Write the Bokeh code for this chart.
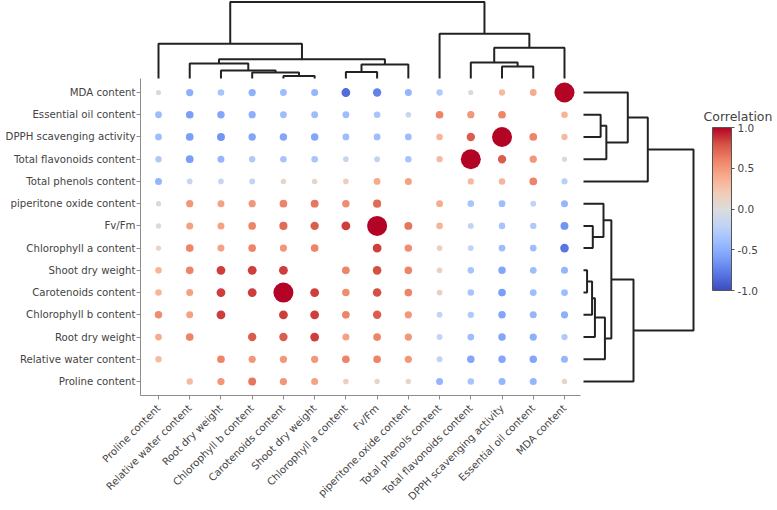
import numpy as np
from bokeh.plotting import figure
from bokeh.models import (ColumnDataSource, LinearColorMapper, ColorBar, FixedTicker,
                          PrintfTickFormatter, Label, Range1d)
from bokeh.embed import file_html
from bokeh.resources import INLINE

# ---------------- data ----------------
col_labels = ["Proline content", "Relative water content", "Root dry weight",
              "Chlorophyll b content", "Carotenoids content", "Shoot dry weight",
              "Chlorophyll a content", "Fv/Fm", "piperitone.oxide content",
              "Total phenols content", "Total flavonoids content",
              "DPPH scavenging activity", "Essential oil content", "MDA content"]
row_labels = ["Proline content", "Relative water content", "Root dry weight",
              "Chlorophyll b content", "Carotenoids content", "Shoot dry weight",
              "Chlorophyll a content", "Fv/Fm", "piperitone oxide content",
              "Total phenols content", "Total flavonoids content",
              "DPPH scavenging activity", "Essential oil content", "MDA content"]
nan = float("nan")
# each row lists correlations against the columns in col_labels order
r_proline = [nan, 0.30, 0.50, 0.65, 0.50, 0.45, 0.15, 0.08, 0.10, -0.45, -0.35, -0.45, -0.45, 0.10]
r_rwc     = [0.30, nan, 0.60, 0.50, 0.50, 0.50, 0.60, 0.60, 0.50, -0.20, -0.55, -0.55, -0.55, -0.45]
r_root    = [0.40, 0.60, nan, 0.75, 0.75, 0.85, 0.45, 0.60, 0.50, -0.20, -0.40, -0.55, -0.50, -0.30]
r_chlb    = [0.55, 0.45, 0.85, nan, 0.85, 0.85, 0.60, 0.75, 0.50, -0.20, -0.30, -0.55, -0.45, -0.50]
r_carot   = [0.35, 0.45, 0.85, 0.85, 1.00, 0.85, 0.55, 0.80, 0.60, 0.15, -0.35, -0.60, -0.40, -0.40]
r_shoot   = [0.35, 0.60, 0.85, 0.85, 0.85, nan, 0.60, 0.80, 0.60, 0.15, -0.35, -0.55, -0.40, -0.45]
r_chla    = [0.08, 0.60, 0.45, 0.60, 0.50, 0.60, nan, 0.85, 0.55, 0.15, -0.20, -0.40, -0.40, -0.80]
r_fvfm    = [0.05, 0.45, 0.45, 0.60, 0.70, 0.75, 0.85, 1.00, 0.65, 0.35, -0.20, -0.35, -0.30, -0.65]
r_pip     = [0.05, 0.50, 0.45, 0.50, 0.60, 0.65, 0.55, 0.70, nan, 0.40, -0.35, -0.40, -0.20, -0.45]
r_tp      = [-0.45, -0.15, -0.15, -0.20, 0.10, 0.10, 0.15, 0.40, 0.45, nan, 0.30, 0.35, 0.60, -0.25]
r_tf      = [-0.30, -0.60, -0.45, -0.30, -0.35, -0.35, -0.15, -0.20, -0.35, 0.30, 1.00, 0.75, 0.50, -0.05]
r_dpph    = [-0.40, -0.60, -0.65, -0.55, -0.55, -0.55, -0.40, -0.40, -0.40, 0.35, 0.75, 1.00, 0.60, 0.30]
r_eo      = [-0.40, -0.60, -0.55, -0.50, -0.40, -0.40, -0.40, -0.35, -0.15, 0.60, 0.50, 0.60, nan, 0.35]
r_mda     = [0.05, -0.50, -0.35, -0.50, -0.40, -0.45, -0.85, -0.75, -0.45, -0.30, -0.05, 0.30, 0.40, 1.00]
rows = [r_proline, r_rwc, r_root, r_chlb, r_carot, r_shoot, r_chla, r_fvfm,
        r_pip, r_tp, r_tf, r_dpph, r_eo, r_mda]

# dendrogram merges on leaf order (left child, right child, height); new nodes numbered from 14
merges = [(4, 5, 2.5), (3, 14, 6.0), (2, 15, 8.0), (1, 16, 15.0),
          (6, 7, 6.5), (18, 8, 14.0), (17, 19, 19.5), (0, 20, 35.0),
          (11, 12, 12.0), (10, 22, 16.0), (23, 13, 31.0), (9, 24, 45.0),
          (21, 25, 77.0)]

cbar_ticks = [-1.0, -0.5, 0.0, 0.5, 1.0]

# ---------------- palette (coolwarm) ----------------
anchors = ['#3b4cc0', '#5977e3', '#7b9ff9', '#9ebeff', '#c0d4f5', '#dddcdc',
           '#f2cbb7', '#f7ac8e', '#ee8468', '#d65244', '#b40426']
arr = np.array([[int(a[i:i + 2], 16) for i in (1, 3, 5)] for a in anchors], float)
t = np.linspace(0, 1, 256)
tp_ = np.linspace(0, 1, len(anchors))
palette = ['#%02x%02x%02x' % tuple(int(round(np.interp(tt, tp_, arr[:, k]))) for k in range(3))
           for tt in t]

# ---------------- layout constants (px) ----------------
FRAME_LEFT = 140
FRAME_W = 637
FRAME_H = 395
COL0_PX = 158
ROW0_PX = 381
CW = 31.23
RH = 22.23
x_start = -(COL0_PX - FRAME_LEFT) / CW
x_end = x_start + FRAME_W / CW
y_start = -(FRAME_H - ROW0_PX) / RH
y_end = y_start + FRAME_H / RH

def dx(px):  # canvas x -> data x
    return x_start + (px - FRAME_LEFT) / CW

def dy(py):  # canvas y -> data y
    return y_start + (FRAME_H - py) / RH

p = figure(frame_width=FRAME_W, frame_height=FRAME_H,
           x_range=Range1d(x_start, x_end), y_range=Range1d(y_start, y_end),
           output_backend="svg", toolbar_location=None,
           min_border_left=FRAME_LEFT, min_border_right=0, min_border_top=0,
           min_border_bottom=0)
p.outline_line_color = None
p.grid.visible = False

# ---------------- dots ----------------
xs, ys, vals, sizes = [], [], [], []
for yi, row in enumerate(rows):
    for xi, r in enumerate(row):
        if np.isnan(r):
            continue
        xs.append(xi)
        ys.append(yi)
        vals.append(r)
        sizes.append(20.0 if abs(r) >= 0.999 else 5.0 + 4.5 * abs(r))
mapper = LinearColorMapper(palette=palette, low=-1, high=1)
src = ColumnDataSource(dict(x=xs, y=ys, r=vals, s=sizes))
p.scatter(x="x", y="y", size="s", source=src, line_color=None,
          fill_color={"field": "r", "transform": mapper})

# ---------------- dendrograms ----------------
n_leaf = len(col_labels)
pos = list(range(n_leaf))
hgt = [0.0] * n_leaf
for a, b, h in merges:
    pos.append((pos[a] + pos[b]) / 2.0)
    hgt.append(h)

top_base = dy(78)
top_scale = (dy(1.5) - top_base) / max(hgt)
right_base = dx(583)
right_scale = (dx(693) - right_base) / max(hgt)

txs, tys, rxs, rys = [], [], [], []
for k, (a, b, h) in enumerate(merges):
    n = n_leaf + k
    px_ = [pos[a], pos[a], pos[b], pos[b]]
    ph_ = [hgt[a], hgt[n], hgt[n], hgt[b]]
    txs.append(px_)
    tys.append([top_base + v * top_scale for v in ph_])
    rys.append(px_)
    rxs.append([right_base + v * right_scale for v in ph_])
p.multi_line(txs, tys, line_color="#222222", line_width=2)
p.multi_line(rxs, rys, line_color="#222222", line_width=2)

# ---------------- axes ----------------
font = "DejaVu Sans"
for ax in (p.xaxis[0], p.yaxis[0]):
    ax.ticker = FixedTicker(ticks=list(range(n_leaf)))
    ax.minor_tick_line_color = None
    ax.axis_line_color = "#8c8c8c"
    ax.major_tick_line_color = "#8c8c8c"
    ax.major_tick_in = 0
    ax.major_tick_out = 4
    ax.major_label_text_font = font
    ax.major_label_text_font_size = "10.2px"
    ax.major_label_text_color = "#444444"
p.xaxis[0].major_label_overrides = {i: l for i, l in enumerate(col_labels)}
p.yaxis[0].major_label_overrides = {i: l for i, l in enumerate(row_labels)}
p.xaxis[0].bounds = (x_start, 13.5)
p.yaxis[0].bounds = (y_start, 13.63)
p.xaxis[0].major_label_orientation = np.pi / 4
p.xaxis[0].major_label_standoff = 7
p.yaxis[0].major_label_standoff = 1

# ---------------- colour bar ----------------
cb = ColorBar(color_mapper=mapper, width=19, height=163,
              ticker=FixedTicker(ticks=cbar_ticks),
              formatter=PrintfTickFormatter(format="%.1f"),
              padding=0, margin=0, location=(712 - FRAME_LEFT, FRAME_H - 290),
              background_fill_alpha=0, border_line_color=None,
              bar_line_color="#555555", bar_line_width=1,
              major_tick_in=0, major_tick_out=3, major_tick_line_color="#555555",
              minor_tick_line_color=None, label_standoff=3,
              major_label_text_font=font, major_label_text_font_size="10.5px",
              major_label_text_color="#444444")
p.add_layout(cb, "center")
p.add_layout(Label(x=dx(703), y=dy(116), text="Correlation", text_font=font,
                   text_font_size="12.5px", text_color="#444444",
                   text_baseline="middle", text_align="left"))

open("out.html", "w").write(file_html(p, INLINE))
